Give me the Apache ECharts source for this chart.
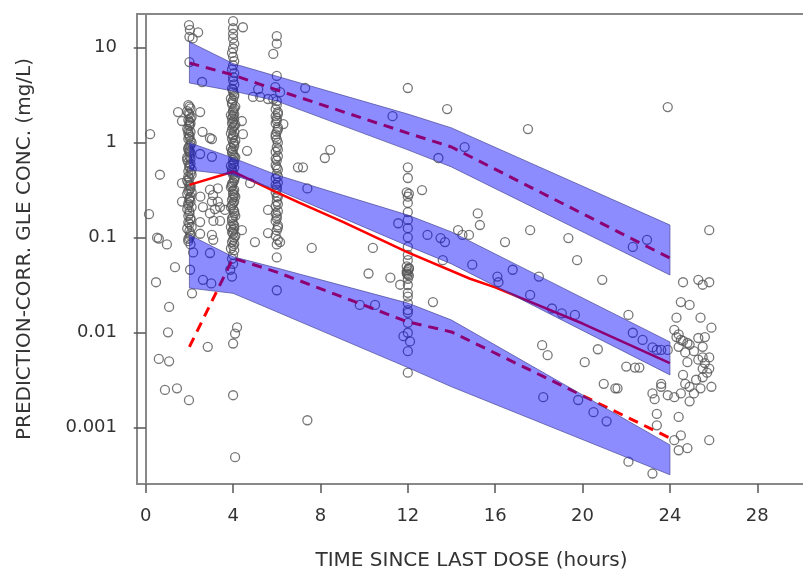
<!DOCTYPE html>
<html>
<head>
<meta charset="utf-8">
<title>VPC</title>
<script src="https://cdn.jsdelivr.net/npm/echarts@6/dist/echarts.min.js"></script>
<style>
  html, body, #main { width: 100%; height: 100%; margin: 0; padding: 0; background: #fff; }
</style>
</head>
<body>
<div id="main"></div>
<script>
// observed concentrations [time (h), conc (mg/L)], grouped by sampling column
var col2 = [
  [1.98,17.3],[2.02,15.4],[2.4,14.5],[2.0,13.0],[2.15,12.5],[2.0,7.05],[2.58,4.35],
  [1.95,2.49],[2.05,2.3],[1.9,2.15],[2.0,2.0],[2.1,1.86],[1.95,1.73],[2.05,1.6],[2.0,1.5],[1.9,1.4],
  [2.05,1.3],[2.0,1.2],[1.95,1.1],[2.1,1.0],[2.0,0.92],[1.95,0.85],[2.05,0.78],[2.0,0.72],[1.9,0.66],
  [2.05,0.6],[2.0,0.55],[1.95,0.5],[2.1,0.46],[2.0,0.42],[1.95,0.38],[2.05,0.35],[2.0,0.32],[1.9,0.29],
  [2.05,0.27],[2.0,0.25],[1.95,0.23],[2.1,0.21],[2.0,0.19],[1.95,0.17],[2.05,0.155],[2.0,0.14],
  [1.9,0.125],[2.05,0.11],[2.0,0.1],[1.95,0.092],[2.05,0.085],[2.0,1.65],[1.95,1.25],[2.05,0.95],
  [1.9,0.7],[2.1,0.52],[1.9,0.4],[2.1,0.3],[1.9,0.2],[2.1,0.13],
  [2.0,2.4],[1.95,2.05],[2.05,1.8],[2.0,1.55],[1.95,1.35],[2.0,1.15],[2.05,1.05],[1.95,0.88],[2.0,0.8],
  [2.05,0.68],[1.95,0.62],[2.0,0.57],[2.05,0.48],[1.95,0.44],[2.0,0.36],[2.05,0.33],[1.95,0.31],
  [2.0,0.26],[2.05,0.24],[1.95,0.22],[2.0,0.18],[2.05,0.16],[1.95,0.145],[2.0,0.118],[2.05,0.105],
  [1.95,0.097]
];
var col4 = [
  [4.0,19.0],[4.45,16.4],[4.0,16.0],[4.0,14.0],[4.0,12.5],[4.05,11.0],[4.0,9.8],[3.95,8.8],[4.0,8.0],
  [4.05,7.2],[4.0,6.5],[3.95,5.9],[4.05,5.4],[4.0,4.9],[4.0,4.5],[4.05,4.1],[3.95,3.7],[4.0,3.4],
  [4.05,3.1],[4.0,2.8],[3.95,2.55],[4.05,2.3],[4.0,2.1],[4.0,1.9],[4.05,1.75],[3.95,1.6],[4.0,1.45],
  [4.05,1.3],[4.0,1.2],[3.95,1.1],[4.0,1.0],[4.05,0.92],[4.0,0.85],[3.95,0.78],[4.05,0.72],[4.0,0.66],
  [4.0,0.6],[4.05,0.55],[3.95,0.5],[4.0,0.46],[4.05,0.42],[4.0,0.38],[3.95,0.35],[4.05,0.32],[4.0,0.29],
  [4.0,0.265],[4.05,0.24],[3.95,0.22],[4.0,0.2],[4.05,0.18],[4.0,0.165],[3.95,0.15],[4.05,0.135],
  [4.0,0.12],[4.0,0.11],[4.05,0.1],[3.95,0.09],[4.0,0.082],[4.05,0.074],[4.0,0.066],[3.95,0.06],
  [4.0,0.053],[3.87,0.046],[3.95,0.039],
  [3.9,2.9],[4.1,2.4],[3.9,1.95],[4.1,1.55],[3.9,1.25],[4.1,1.05],[3.9,0.88],[4.1,0.7],[3.9,0.57],
  [4.1,0.44],[3.9,0.34],[4.1,0.27],[3.9,0.21],[4.1,0.17],[3.9,0.13],[4.1,0.105],[3.9,0.077],
  [4.0,3.6],[4.05,3.25],[3.95,2.65],[4.0,2.2],[4.05,2.0],[3.95,1.8],[4.0,1.65],[4.05,1.5],[3.95,1.38],
  [4.0,1.15],[4.05,0.98],[3.95,0.82],[4.0,0.75],[4.05,0.63],[3.95,0.53],[4.0,0.48],[4.05,0.4],
  [3.95,0.37],[4.0,0.31],[4.05,0.28],[3.95,0.25],[4.0,0.23],[4.05,0.19],[3.95,0.16],[4.0,0.14],
  [4.05,0.125],[3.95,0.115],[4.0,0.095],[4.05,0.086],
  [4.0,0.0077],[4.18,0.0114],[4.09,0.0098],[4.0,0.0022],[4.09,0.00049]
];
var col6 = [
  [6.0,13.2],[6.0,11.0],[5.84,8.6],[6.0,5.04],[5.93,3.85],[6.15,3.4],[5.6,2.88],[5.84,2.88],[6.0,2.74],
  [5.15,3.66],[4.91,3.03],[5.24,3.03],
  [6.0,2.5],[5.95,2.25],[6.05,2.0],[6.0,1.8],[5.95,1.6],[6.05,1.45],[6.0,1.3],[5.95,1.15],[6.05,1.0],
  [6.0,0.9],[5.95,0.8],[6.05,0.72],[6.0,0.65],[5.95,0.58],[6.05,0.52],[6.0,0.47],[5.95,0.42],[6.05,0.38],
  [6.0,0.34],[5.95,0.3],[6.05,0.27],[6.0,0.24],[5.95,0.215],[6.05,0.19],[6.0,0.17],[5.95,0.15],
  [6.05,0.135],[6.0,0.12],[5.95,0.105],[6.05,0.095],[6.0,0.085],[6.0,0.062],[6.0,0.028],[6.15,0.09],
  [6.05,2.1],[5.95,1.9],[6.0,1.7],[6.05,1.38],[5.95,1.22],[6.0,1.08],[6.05,0.85],[5.95,0.68],[6.0,0.55],
  [6.05,0.44],[5.95,0.36],[6.0,0.32],[6.05,0.225],[5.95,0.18],[6.0,0.16],[6.05,0.128]
];
var col12 = [
  [12.0,3.76],[12.0,0.55],[12.0,0.425],[11.95,0.3],[12.05,0.29],[12.0,0.232],[12.0,0.186],[12.0,0.154],
  [12.0,0.126],[12.0,0.101],[12.0,0.08],[12.0,0.066],[12.0,0.058],[11.95,0.05],[12.05,0.047],
  [12.0,0.0457],[11.95,0.042],[12.05,0.04],[12.0,0.037],[12.0,0.0318],[12.0,0.0263],[12.0,0.024],
  [12.0,0.0204],[12.0,0.0173],[12.0,0.0162],[12.0,0.0127],[12.0,0.01],[11.8,0.0092],[12.1,0.0081],
  [12.0,0.0064],[12.0,0.0038],[12.0,0.27],[12.05,0.048],[11.95,0.044],[12.0,0.041]
];
var scatterPts = [
  [0.2,1.23],[0.15,0.177],[0.65,0.46],[0.52,0.1],[0.6,0.098],[0.97,0.085],[1.34,0.049],[0.47,0.034],
  [1.07,0.0187],[1.02,0.0101],[0.6,0.0053],[1.07,0.005],[0.88,0.0025],[1.43,0.0026],[1.98,0.00195],
  [2.84,0.0071],[1.66,0.375],[1.66,0.24],[2.03,0.046],[2.17,0.07],[2.12,0.026],[2.62,0.036],[3.0,0.033],
  [2.94,0.069],[2.49,0.146],[3.03,0.107],[2.94,0.32],[3.3,0.33],[3.08,0.28],[3.03,0.24],[3.3,0.24],
  [3.17,0.2],[3.4,0.21],[2.5,0.27],[2.62,0.21],[2.94,0.18],[3.1,0.15],[3.4,0.15],[2.49,0.11],[3.09,0.095],
  [3.63,0.196],[4.4,0.12],[5.0,0.09],[5.6,0.196],[5.6,0.112],[4.78,0.375],[6.0,0.27],
  [1.48,2.1],[1.66,1.69],[2.49,2.1],[2.6,1.3],[3.03,1.09],[2.94,1.12],[4.4,1.69],[4.45,1.23],[4.64,0.82],
  [2.49,0.76],[3.03,0.71],[2.0,0.82],[6.97,0.55],[6.3,1.57],[7.2,0.55],[8.2,0.69],[8.45,0.84],[7.4,0.33],
  [7.6,0.078],[10.4,0.078],[10.2,0.042],[11.2,0.038],[11.65,0.032],[13.15,0.021],[12.65,0.317],
  [11.56,0.142],[12.9,0.107],[13.5,0.099],[13.7,0.09],[14.3,0.12],[14.5,0.107],[14.8,0.107],[13.6,0.058],
  [14.95,0.052],[15.2,0.18],[15.3,0.136],[13.4,0.69],[14.6,0.9],[13.8,2.26],[17.5,1.39],[11.3,1.9],
  [7.3,3.76],[23.9,2.37],[17.6,0.12],[16.45,0.09],[19.35,0.099],[19.75,0.058],[20.9,0.036],[22.1,0.0154],
  [22.3,0.08],[22.95,0.095],[16.1,0.039],[16.15,0.034],[16.8,0.046],[18.0,0.039],[17.6,0.025],
  [18.6,0.018],[19.05,0.016],[19.65,0.0154],[7.4,0.0012],[9.8,0.0196],[10.5,0.0196],
  [18.15,0.0074],[18.4,0.0058],[20.7,0.0067],[20.1,0.0049],[20.97,0.0029],[21.5,0.0026],[18.2,0.0021],
  [19.8,0.00196],[20.5,0.00146],[21.1,0.00117],[22.1,0.00044],[23.2,0.00033],[21.6,0.0026],
  [22.0,0.0044],[22.4,0.0043],[22.6,0.0043],[22.3,0.01],[22.75,0.0084],[23.2,0.007],[23.4,0.0066],
  [23.6,0.0066],[23.9,0.0066],[23.4,0.0014],[23.4,0.00106],[24.4,0.0013]
];
var late = [
  [25.8,0.12],[24.6,0.034],[25.3,0.036],[25.5,0.032],[25.8,0.034],[24.5,0.021],[24.9,0.0196],
  [24.3,0.0144],[25.4,0.0144],[25.9,0.0113],[25.3,0.0088],[25.5,0.0071],[25.6,0.009],[25.5,0.0055],
  [25.8,0.0055],[25.5,0.0042],[25.8,0.0042],[24.8,0.0049],[24.6,0.0036],[24.7,0.0029],[24.9,0.0027],
  [25.2,0.0032],[25.5,0.0034],[25.7,0.0038],[25.9,0.0027],[25.1,0.0023],[25.4,0.0026],[24.5,0.0023],
  [24.2,0.0021],[23.9,0.0022],[23.6,0.0027],[23.6,0.0029],[23.2,0.0023],[23.3,0.002],[24.9,0.0019],
  [24.2,0.00074],[24.5,0.00083],[24.4,0.00058],[24.8,0.00061],[25.8,0.00074],[24.2,0.0107],
  [24.4,0.0096],[24.6,0.0082],[24.9,0.0075],[25.1,0.0064],[24.7,0.0062],[25.3,0.0052],[25.6,0.0048],
  [24.3,0.009],[24.5,0.0084],[24.8,0.0078],[24.4,0.0071]
];

// simulated prediction intervals (95% CI of 5th, 50th, 95th percentiles)
var bandTimes = [2, 4, 6, 12, 14, 24];
var upperHi = [11.5, 6.8, 5.0, 2.0, 1.43, 0.136];
var upperLo = [4.25, 3.5, 2.74, 0.84, 0.555, 0.0405];
var midHi = [1.0, 0.69, 0.457, 0.173, 0.115, 0.008];
var midLo = [0.516, 0.457, 0.32, 0.082, 0.053, 0.0036];
var lowHi = [0.107, 0.063, 0.048, 0.0205, 0.0136, 0.00066];
var lowLo = [0.0295, 0.026, 0.0166, 0.0043, 0.0027, 0.00032];

// observed percentiles
var obsP95 = [[2, 6.9], [4, 5.16], [6, 3.59], [12, 1.26], [14, 0.9], [24, 0.061]];
var obsP50 = [[2, 0.36], [4, 0.495], [6, 0.3], [7, 0.235], [9, 0.148], [12, 0.07], [14.85, 0.037], [16, 0.03], [20, 0.0125], [24, 0.0048]];
var obsP05 = [[2, 0.0071], [4, 0.061], [6, 0.0435], [12, 0.013], [14, 0.0102], [24, 0.00078]];

var xTicks = [0, 4, 8, 12, 16, 20, 24, 28];
var yTicks = [0.001, 0.01, 0.1, 1, 10];

var font = 'DejaVu Sans';

function bandSeries(lo, hi) {
  return {
    type: 'custom',
    z: 10,
    data: bandTimes.map(function (t, i) { return [t, lo[i], hi[i]]; }),
    encode: { x: 0, y: [1, 2] },
    renderItem: function (params, api) {
      if (params.dataIndex !== 0) return;
      var pts = [];
      for (var i = 0; i < bandTimes.length; i++) pts.push(api.coord([bandTimes[i], hi[i]]));
      for (var j = bandTimes.length - 1; j >= 0; j--) pts.push(api.coord([bandTimes[j], lo[j]]));
      return {
        type: 'polygon',
        shape: { points: pts },
        style: { fill: 'rgba(0,0,255,0.45)', stroke: 'rgba(70,70,150,0.7)', lineWidth: 1 }
      };
    }
  };
}

function pointSeries(d) {
  return {
    type: 'scatter',
    data: d,
    symbol: 'circle',
    symbolSize: 9,
    itemStyle: { color: 'rgba(0,0,0,0)', borderColor: '#555', borderWidth: 1.3 }
  };
}

var chart = echarts.init(document.getElementById('main'));
chart.setOption({
  animation: false,
  grid: {
    left: 137, top: 14, right: -3, bottom: 89, outerBoundsMode: 'none', containLabel: false,
    show: true, borderColor: '#888', borderWidth: 2
  },
  xAxis: {
    type: 'value', min: -0.4, max: 30.23,
    name: 'TIME SINCE LAST DOSE (hours)', nameLocation: 'middle', nameGap: 67,
    nameTextStyle: { fontFamily: font, fontSize: 20, color: '#333' },
    axisLine: { show: true, onZero: false, lineStyle: { color: '#888', width: 2 } },
    axisTick: { show: true, length: 9, customValues: xTicks, lineStyle: { color: '#555', width: 1.5 } },
    axisLabel: { customValues: xTicks, margin: 23, fontFamily: font, fontSize: 18, color: '#333' },
    splitLine: { show: false }
  },
  yAxis: {
    type: 'log', logBase: 10, min: 0.000256, max: 22.6,
    name: 'PREDICTION-CORR. GLE CONC. (mg/L)', nameLocation: 'middle', nameGap: 102, nameRotate: 90,
    nameTextStyle: { fontFamily: font, fontSize: 20, color: '#333' },
    axisLine: { show: true, lineStyle: { color: '#888', width: 2 } },
    axisTick: { show: true, length: 12, customValues: yTicks, lineStyle: { color: '#555', width: 1.5 } },
    axisLabel: {
      customValues: yTicks, margin: 20, fontFamily: font, fontSize: 18, color: '#333',
      formatter: function (v) { return v >= 1 ? String(Math.round(v)) : String(+Number(v).toPrecision(1)); }
    },
    splitLine: { show: false }
  },
  series: [
    pointSeries(col2), pointSeries(col4), pointSeries(col6), pointSeries(col12),
    pointSeries(scatterPts), pointSeries(late),
    { type: 'line', data: obsP95, showSymbol: false, z: 5, lineStyle: { color: '#ff0000', width: 3, type: [10, 7] } },
    { type: 'line', data: obsP50, showSymbol: false, z: 5, lineStyle: { color: '#ff0000', width: 2.5 } },
    { type: 'line', data: obsP05, showSymbol: false, z: 5, lineStyle: { color: '#ff0000', width: 3, type: [10, 7] } },
    bandSeries(upperLo, upperHi), bandSeries(midLo, midHi), bandSeries(lowLo, lowHi)
  ]
});
</script>
</body>
</html>
